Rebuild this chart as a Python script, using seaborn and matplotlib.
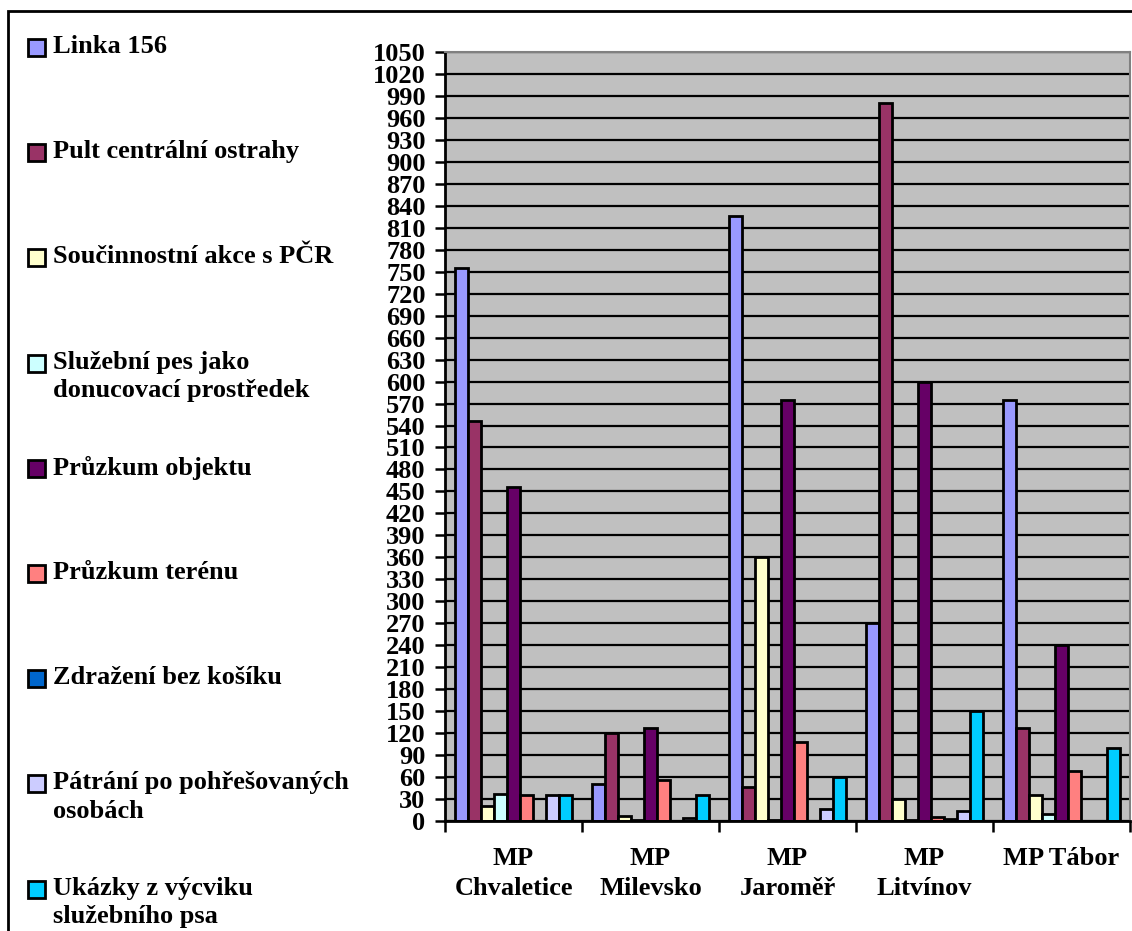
import pandas as pd
import seaborn as sns
import matplotlib.pyplot as plt
from matplotlib.patches import Rectangle

# === DATA ===
stations = ["MP\nChvaletice", "MP\nMilevsko", "MP\nJaroměř", "MP\nLitvínov", "MP Tábor"]
series = [
    "Linka 156",
    "Pult centrální ostrahy",
    "Součinnostní akce s PČR",
    "Služební pes jako\ndonucovací prostředek",
    "Průzkum objektu",
    "Průzkum terénu",
    "Zdražení bez košíku",
    "Pátrání po pohřešovaných\nosobách",
    "Ukázky z výcviku\nslužebního psa",
]
linka = [755, 50, 826, 270, 575]
pult = [546, 120, 46, 980, 127]
soucinnost = [20, 7, 360, 30, 36]
pes = [37, 2, 1, 2, 9]
objekt = [456, 127, 575, 600, 240]
teren = [35, 56, 108, 6, 68]
zdrazeni = [0, 0, 0, 3, 0]
patrani = [35, 4, 17, 13, 0]
ukazky = [35, 36, 60, 150, 100]

colors = ["#9999FF", "#993366", "#FFFFCC", "#CCFFFF", "#660066",
          "#FF8080", "#0066CC", "#CCCCFF", "#00CCFF"]

values = [linka, pult, soucinnost, pes, objekt, teren, zdrazeni, patrani, ukazky]
rows = []
for name, vals in zip(series, values):
    for st, v in zip(stations, vals):
        rows.append({"Stanice": st, "Akce": name, "Počet": v})
df = pd.DataFrame(rows)

plt.rcParams['font.family'] = ['Liberation Serif', 'DejaVu Serif']
plt.rcParams['font.weight'] = 'bold'

W, H = 1132, 931
fig = plt.figure(figsize=(W / 100, H / 100), dpi=100, facecolor='white')
ax = fig.add_axes([445 / W, 1 - 821 / H, 685 / W, 769 / H])
ax.set_facecolor("#C0C0C0")

sns.barplot(data=df, x="Stanice", y="Počet", hue="Akce", order=stations,
            hue_order=series, palette=colors, saturation=1, width=0.85, gap=0,
            edgecolor="black", linewidth=2, legend=False, ax=ax)

ax.set_xlim(-0.5, len(stations) - 0.5)
ax.set_ylim(0, 1050)
ax.set_yticks(range(0, 1051, 30))
ax.set_axisbelow(True)
ax.grid(axis='y', color='black', linewidth=1.6)
ax.grid(axis='x', visible=False)
ax.set_xlabel("")
ax.set_ylabel("")

for s in ["top", "right"]:
    ax.spines[s].set_color("#808080")
    ax.spines[s].set_linewidth(1.5)
for s in ["left", "bottom"]:
    ax.spines[s].set_color("black")
    ax.spines[s].set_linewidth(2)

ax.tick_params(axis='y', direction='out', length=7, width=1.8, pad=7,
               labelsize=19, colors='black')
ax.tick_params(axis='x', which='major', length=0, pad=19, labelsize=19)
ax.set_xticks([i + 0.5 for i in range(-1, len(stations))], minor=True)
ax.tick_params(axis='x', which='minor', direction='out', length=8, width=1.8)
for lab in ax.get_xticklabels():
    lab.set_verticalalignment('top')
    lab.set_linespacing(1.35)

# legend, evenly spaced like the original
for i, (name, col) in enumerate(zip(series, colors)):
    yc = 47 + i * 105.2
    fig.patches.append(Rectangle((28 / W, 1 - (yc + 9) / H), 17 / W, 17 / H,
                                 transform=fig.transFigure, facecolor=col,
                                 edgecolor='black', linewidth=2))
    fig.text(53 / W, 1 - (yc - 12) / H, name, fontsize=19, fontweight='bold',
             va='top', ha='left', linespacing=1.3)

# outer frame
fig.patches.append(Rectangle((8 / W, -0.05), 1.1, 1.05 - 11 / H,
                             transform=fig.transFigure, fill=False,
                             edgecolor='black', linewidth=2, clip_on=False))

plt.savefig("out.png", dpi=100)
